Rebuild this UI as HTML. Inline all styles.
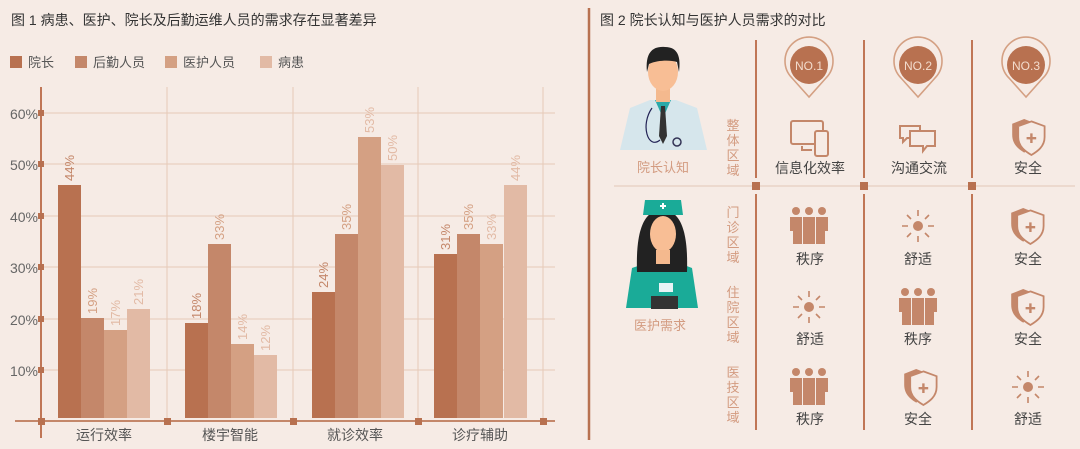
<!DOCTYPE html>
<html><head><meta charset="utf-8"><style>
html,body{margin:0;padding:0;background:#f6ebe5;}
svg{display:block;font-family:"Liberation Sans","Noto Sans CJK SC",sans-serif;}
</style></head><body>
<svg width="1080" height="449" viewBox="0 0 1080 449" xmlns="http://www.w3.org/2000/svg">
<defs>
<g id="ppl" fill="#c4876a">
 <circle cx="-13" cy="-15" r="4"/><circle cx="0" cy="-15" r="4"/><circle cx="13" cy="-15" r="4"/>
 <path d="M-19,-9 h12 v27 h-9 v-13 h-3z"/>
 <path d="M-6,-9 h12 v27 h-12z"/>
 <path d="M7,-9 h12 v14 h-3 v13 h-9z"/>
</g>
<g id="sun" stroke="#c4876a" stroke-width="1.6" fill="none">
 <circle cx="0" cy="0" r="5" fill="#c4876a" stroke="none"/>
 <path d="M0,-16v6M0,10v6M-16,0h6M10,0h6M-11,-11l4,4M7,7l4,4M11,-11l-4,4M-7,7l-4,4"/>
</g>
<g id="shd" transform="scale(1.2)">
 <path d="M-4,-15 l10,4 v9 c0,8 -5,12 -10,15 c-5,-3 -10,-7 -10,-15 v-9z" fill="#c4876a"/>
 <path d="M2,-13 l11,4 v9 c0,8 -6,12 -11,15 c-5,-3 -11,-7 -11,-15 v-9z" fill="#f6ebe5" stroke="#c4876a" stroke-width="1.5"/>
 <path d="M2,-3v8M-2,1h8" stroke="#c4876a" stroke-width="2"/>
</g>
<g id="pin">
 <path d="M0,34 L-17,15 A24,24 0 1 1 17,15 Z" fill="none" stroke="#d4a083" stroke-width="1.6" transform="translate(0,-2)"/>
 <circle cx="0" cy="0" r="19" fill="#b87150"/>
</g>
</defs>

<text x="11" y="25" font-size="14" fill="#333">图 1 病患、医护、院长及后勤运维人员的需求存在显著差异</text>
<rect x="10" y="56" width="12" height="12" fill="#b87150"/><text x="28" y="67" font-size="13" fill="#555">院长</text>
<rect x="75" y="56" width="12" height="12" fill="#c4876a"/><text x="93" y="67" font-size="13" fill="#555">后勤人员</text>
<rect x="165" y="56" width="12" height="12" fill="#d4a083"/><text x="183" y="67" font-size="13" fill="#555">医护人员</text>
<rect x="260" y="56" width="12" height="12" fill="#e2baa5"/><text x="278" y="67" font-size="13" fill="#555">病患</text>

<g stroke="#e6c9b8" stroke-width="1">
 <path d="M41,113H555M41,164H555M41,216H555M41,267H555M41,319H555M41,370H555"/>
 <path d="M167,87V421M293,87V421M418,87V421M543,87V421"/>
</g>
<line x1="41" y1="87" x2="41" y2="438" stroke="#c07656" stroke-width="2"/>
<g fill="#b87150">
 <rect x="38" y="110" width="6" height="6"/><rect x="38" y="161" width="6" height="6"/><rect x="38" y="213" width="6" height="6"/>
 <rect x="38" y="264" width="6" height="6"/><rect x="38" y="316" width="6" height="6"/><rect x="38" y="367" width="6" height="6"/>
</g>
<g font-size="14" fill="#666" text-anchor="end">
 <text x="38" y="119">60%</text><text x="38" y="170">50%</text><text x="38" y="222">40%</text>
 <text x="38" y="273">30%</text><text x="38" y="325">20%</text><text x="38" y="376">10%</text>
</g>
<line x1="15" y1="421" x2="555" y2="421" stroke="#c4876a" stroke-width="2"/>
<g fill="#b87150"><rect x="38" y="418" width="7" height="7"/><rect x="164" y="418" width="7" height="7"/><rect x="290" y="418" width="7" height="7"/><rect x="415" y="418" width="7" height="7"/><rect x="540" y="418" width="7" height="7"/></g>

<g>
 <rect x="58" y="185" width="23" height="233" fill="#b87150"/><rect x="81" y="318" width="23" height="100" fill="#c4876a"/><rect x="104" y="330" width="23" height="88" fill="#d4a083"/><rect x="127" y="309" width="23" height="109" fill="#e2baa5"/>
 <rect x="185" y="323" width="23" height="95" fill="#b87150"/><rect x="208" y="244" width="23" height="174" fill="#c4876a"/><rect x="231" y="344" width="23" height="74" fill="#d4a083"/><rect x="254" y="355" width="23" height="63" fill="#e2baa5"/>
 <rect x="312" y="292" width="23" height="126" fill="#b87150"/><rect x="335" y="234" width="23" height="184" fill="#c4876a"/><rect x="358" y="137" width="23" height="281" fill="#d4a083"/><rect x="381" y="165" width="23" height="253" fill="#e2baa5"/>
 <rect x="434" y="254" width="23" height="164" fill="#b87150"/><rect x="457" y="234" width="23" height="184" fill="#c4876a"/><rect x="480" y="244" width="23" height="174" fill="#d4a083"/><rect x="504" y="185" width="23" height="233" fill="#e2baa5"/>
</g>
<g font-size="13">
 <text transform="translate(74,181) rotate(-90)" fill="#c4876a">44%</text>
 <text transform="translate(97,314) rotate(-90)" fill="#d4a083">19%</text>
 <text transform="translate(120,326) rotate(-90)" fill="#e2baa5">17%</text>
 <text transform="translate(143,305) rotate(-90)" fill="#e2baa5">21%</text>
 <text transform="translate(201,319) rotate(-90)" fill="#c4876a">18%</text>
 <text transform="translate(224,240) rotate(-90)" fill="#d4a083">33%</text>
 <text transform="translate(247,340) rotate(-90)" fill="#e2baa5">14%</text>
 <text transform="translate(270,351) rotate(-90)" fill="#e2baa5">12%</text>
 <text transform="translate(328,288) rotate(-90)" fill="#c4876a">24%</text>
 <text transform="translate(351,230) rotate(-90)" fill="#d4a083">35%</text>
 <text transform="translate(374,133) rotate(-90)" fill="#e2baa5">53%</text>
 <text transform="translate(397,161) rotate(-90)" fill="#e2baa5">50%</text>
 <text transform="translate(450,250) rotate(-90)" fill="#c4876a">31%</text>
 <text transform="translate(473,230) rotate(-90)" fill="#d4a083">35%</text>
 <text transform="translate(496,240) rotate(-90)" fill="#e2baa5">33%</text>
 <text transform="translate(520,181) rotate(-90)" fill="#e2baa5">44%</text>
</g>
<g font-size="14" fill="#555" text-anchor="middle">
 <text x="104" y="440">运行效率</text><text x="230" y="440">楼宇智能</text><text x="355" y="440">就诊效率</text><text x="480" y="440">诊疗辅助</text>
</g>
<line x1="589" y1="8" x2="589" y2="440" stroke="#b87150" stroke-width="2.5"/>

<text x="600" y="25" font-size="14" fill="#333">图 2 院长认知与医护人员需求的对比</text>
<g stroke="#c07656" stroke-width="2">
 <path d="M756,40V178M756,194V430M864,40V178M864,194V430M972,40V178M972,194V430"/>
</g>
<line x1="614" y1="186" x2="1075" y2="186" stroke="#e8d3c6" stroke-width="1.5"/>
<g fill="#b87150"><rect x="752" y="182" width="8" height="8"/><rect x="860" y="182" width="8" height="8"/><rect x="968" y="182" width="8" height="8"/></g>

<g>
 <path d="M620,150 L630,108 L650,100 L676,100 L697,108 L707,150Z" fill="#d6e6ec"/>
 <path d="M655,100 L663,118 L671,100Z" fill="#2aa9a9"/>
 <path d="M661,106 h4 l2,30 l-4,8 l-4,-8z" fill="#333"/>
 <rect x="656" y="86" width="14" height="16" fill="#f4b98e"/>
 <ellipse cx="663" cy="72" rx="15" ry="19" fill="#f8be95"/>
 <path d="M647,72 C645,52 653,46 665,47 C678,47 681,57 679,72 L677,62 C670,60 658,60 649,64Z" fill="#222"/>
 <path d="M652,108 C640,125 648,150 660,140" fill="none" stroke="#225" stroke-width="1.2"/>
 <circle cx="677" cy="142" r="4" fill="none" stroke="#335" stroke-width="1.5"/>
</g>
<text x="663" y="172" font-size="13" fill="#d39b80" text-anchor="middle">院长认知</text>
<g>
 <path d="M626,308 L632,268 L650,262 L676,262 L692,268 L698,308Z" fill="#1aab98"/>
 <path d="M637,272 C636,240 640,210 662,210 C684,210 688,240 687,272Z" fill="#222"/>
 <ellipse cx="663" cy="234" rx="13" ry="18" fill="#f8be95"/>
 <rect x="656" y="250" width="14" height="14" fill="#f4b98e"/>
 <path d="M643,215 h40 l-2,-15 h-36z" fill="#1aab98"/>
 <path d="M663,203v6M660,206h6" stroke="#fff" stroke-width="2"/>
 <rect x="651" y="296" width="27" height="13" fill="#333"/>
 <rect x="659" y="283" width="14" height="9" fill="#e8f4f6"/>
</g>
<text x="660" y="330" font-size="13" fill="#d39b80" text-anchor="middle">医护需求</text>

<g font-size="13" fill="#d39b80" text-anchor="middle">
 <text x="733" y="130">整</text><text x="733" y="145">体</text><text x="733" y="160">区</text><text x="733" y="175">域</text>
 <text x="733" y="217">门</text><text x="733" y="232">诊</text><text x="733" y="247">区</text><text x="733" y="262">域</text>
 <text x="733" y="297">住</text><text x="733" y="312">院</text><text x="733" y="327">区</text><text x="733" y="342">域</text>
 <text x="733" y="377">医</text><text x="733" y="392">技</text><text x="733" y="407">区</text><text x="733" y="422">域</text>
</g>

<use href="#pin" x="809" y="65"/><use href="#pin" x="918" y="65"/><use href="#pin" x="1026" y="65"/>
<g font-size="12" fill="#f3dccd" text-anchor="middle"><text x="809" y="70">NO.1</text><text x="918" y="70">NO.2</text><text x="1026" y="70">NO.3</text></g>

<g fill="none" stroke="#c4876a" stroke-width="2">
 <rect x="791" y="121" width="32" height="23" rx="2"/><path d="M802,146v4h10"/>
 <rect x="815" y="131" width="13" height="25" rx="2" fill="#f6ebe5"/>
 <path d="M900,126 h20 v12 h-13 l-4,4 v-4 h-3z"/>
 <path d="M910,131 h25 v15 h-8 l-4,5 v-5 h-13z" fill="#f6ebe5"/>
</g>
<use href="#shd" x="1029" y="137"/>
<g font-size="14" fill="#444" text-anchor="middle">
 <text x="810" y="173">信息化效率</text><text x="919" y="173">沟通交流</text><text x="1028" y="173">安全</text>
</g>
<use href="#ppl" x="809" y="226"/><use href="#sun" x="918" y="226"/><use href="#shd" x="1028" y="226"/>
<use href="#sun" x="809" y="307"/><use href="#ppl" x="918" y="307"/><use href="#shd" x="1028" y="307"/>
<use href="#ppl" x="809" y="387"/><use href="#shd" x="921" y="387"/><use href="#sun" x="1028" y="387"/>
<g font-size="14" fill="#444" text-anchor="middle">
 <text x="810" y="264">秩序</text><text x="918" y="264">舒适</text><text x="1028" y="264">安全</text>
 <text x="810" y="344">舒适</text><text x="918" y="344">秩序</text><text x="1028" y="344">安全</text>
 <text x="810" y="424">秩序</text><text x="918" y="424">安全</text><text x="1028" y="424">舒适</text>
</g>
</svg>
</body></html>
